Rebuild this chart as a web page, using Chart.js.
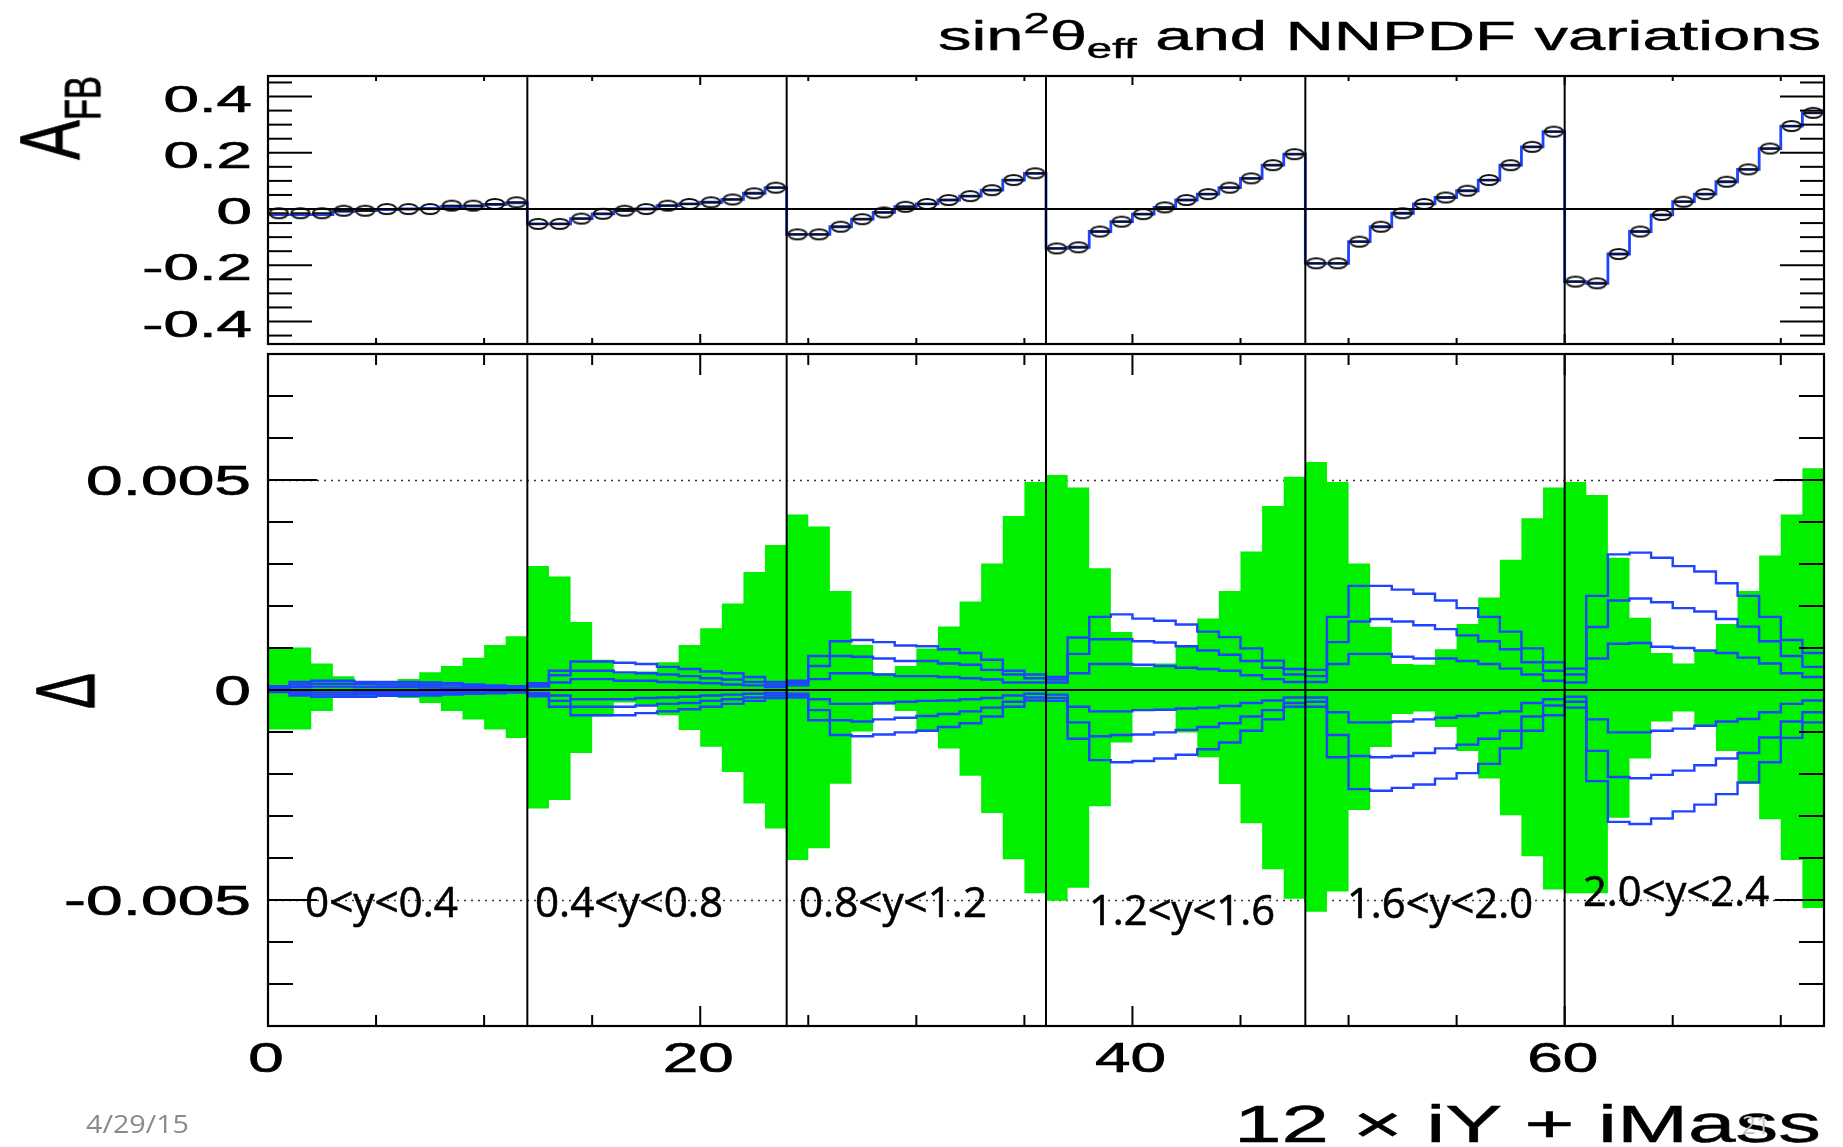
<!DOCTYPE html>
<html>
<head>
<meta charset="utf-8">
<title>sin2theta_eff and NNPDF variations</title>
<script src="https://cdn.jsdelivr.net/npm/chart.js@4.4.1/dist/chart.umd.min.js"></script>
<style>
  html, body { margin: 0; padding: 0; background: #fff; }
  body { width: 1843px; height: 1147px; position: relative; overflow: hidden; }
  canvas { position: absolute; left: 0; }
  .txt { position: absolute; left: 0; top: 0; white-space: nowrap; line-height: 1; color: #000;
         font-family: "Liberation Sans", Arial, Helvetica, sans-serif; -webkit-text-stroke: 0.5px #000; }
  .slide { font-family: "Open Sans", "Liberation Sans", sans-serif; -webkit-text-stroke: 0.6px #000; }
  .sup { position: relative; top: -0.6em; font-size: 0.7em; line-height: 0; }
  .sub { position: relative; top: 0.3em; font-size: 0.68em; line-height: 0; }
  .sub2 { position: relative; top: 0.42em; font-size: 0.58em; line-height: 0; }
</style>
</head>
<body>
<canvas id="afb" width="1843" height="352" style="top:0"></canvas>
<canvas id="delta" width="1843" height="797" style="top:350px"></canvas>

<div class="txt" id="title" style="font-size:41px">sin<span class="sup">2</span>θ<span class="sub">eff</span> and NNPDF variations</div>
<div class="txt" id="xtitle" style="font-size:51px">12 × iY + iMass</div>
<div class="txt" id="ytitleTop" style="font-size:53px">A<span class="sub2">FB</span></div>
<div class="txt" id="ytitleBottom" style="font-size:52px">Δ</div>
<div class="txt slide" id="date" style="font-size:25px;color:#8a8a8a;-webkit-text-stroke:0">4/29/15</div>
<div class="txt slide" id="pageno" style="font-size:25px;color:#c4c4c4;-webkit-text-stroke:0">21</div>

<script>
// bins: 12 x iY + iMass, 72 bins of width 1
const nBins = 72;
const blockEdges = [12, 24, 36, 48, 60];
const rapidityLabels = ["0<y<0.4", "0.4<y<0.8", "0.8<y<1.2", "1.2<y<1.6", "1.6<y<2.0", "2.0<y<2.4"];

// tick labels
const afbTicks = [-0.4, -0.2, 0, 0.2, 0.4];
const afbTickLabels = ["-0.4", "-0.2", "0", "0.2", "0.4"];
const deltaTicks = [-0.005, 0, 0.005];
const deltaTickLabels = ["-0.005", "0", "0.005"];
const xTicks = [0, 20, 40, 60];
const xTickLabels = ["0", "20", "40", "60"];
const dottedLevels = [-0.005, 0.005];

// A_FB, markers (one per bin)
const afbPoints = [
  -0.015, -0.015, -0.015, -0.006, -0.006, 0.000, 0.000, 0.000, 0.012, 0.012, 0.018, 0.024,
  -0.053, -0.053, -0.034, -0.017, -0.006, 0.000, 0.012, 0.018, 0.024, 0.034, 0.056, 0.076,
  -0.090, -0.090, -0.063, -0.036, -0.012, 0.008, 0.018, 0.032, 0.046, 0.067, 0.103, 0.127,
  -0.140, -0.136, -0.080, -0.045, -0.018, 0.006, 0.032, 0.053, 0.076, 0.109, 0.156, 0.195,
  -0.193, -0.193, -0.116, -0.063, -0.015, 0.018, 0.041, 0.065, 0.103, 0.156, 0.221, 0.275,
  -0.258, -0.264, -0.160, -0.080, -0.021, 0.026, 0.053, 0.097, 0.141, 0.215, 0.295, 0.342
];
// A_FB, blue histogram
const afbStep = [
  -0.020, -0.020, -0.020, -0.008, -0.006, -0.002, 0.000, 0.002, 0.008, 0.010, 0.016, 0.022,
  -0.053, -0.053, -0.034, -0.017, -0.006, 0.000, 0.012, 0.018, 0.024, 0.034, 0.056, 0.076,
  -0.090, -0.090, -0.063, -0.036, -0.012, 0.008, 0.018, 0.032, 0.046, 0.067, 0.103, 0.127,
  -0.140, -0.136, -0.080, -0.045, -0.018, 0.006, 0.032, 0.053, 0.076, 0.109, 0.156, 0.195,
  -0.193, -0.193, -0.116, -0.063, -0.015, 0.018, 0.041, 0.065, 0.103, 0.156, 0.221, 0.275,
  -0.258, -0.264, -0.160, -0.080, -0.021, 0.026, 0.053, 0.097, 0.141, 0.215, 0.295, 0.342
];

// NNPDF band (green), upper and lower edge per bin
const pdfUp = [
  0.00101, 0.00101, 0.00063, 0.00033, 0.00020, 0.00018, 0.00026, 0.00042, 0.00057, 0.00077, 0.00107, 0.00128,
  0.00295, 0.00270, 0.00162, 0.00072, 0.00040, 0.00044, 0.00066, 0.00107, 0.00147, 0.00206, 0.00281, 0.00345,
  0.00418, 0.00389, 0.00236, 0.00107, 0.00040, 0.00057, 0.00099, 0.00151, 0.00211, 0.00301, 0.00414, 0.00495,
  0.00512, 0.00482, 0.00290, 0.00138, 0.00055, 0.00063, 0.00104, 0.00170, 0.00236, 0.00330, 0.00438, 0.00508,
  0.00543, 0.00495, 0.00301, 0.00150, 0.00062, 0.00060, 0.00097, 0.00157, 0.00220, 0.00310, 0.00409, 0.00482,
  0.00495, 0.00464, 0.00315, 0.00172, 0.00088, 0.00063, 0.00094, 0.00157, 0.00236, 0.00320, 0.00418, 0.00528
];
const pdfDown = [
  -0.00094, -0.00094, -0.00050, -0.00019, -0.00015, -0.00015, -0.00019, -0.00031, -0.00050, -0.00070, -0.00094, -0.00114,
  -0.00282, -0.00262, -0.00150, -0.00063, -0.00030, -0.00035, -0.00060, -0.00095, -0.00135, -0.00195, -0.00270, -0.00330,
  -0.00405, -0.00377, -0.00223, -0.00099, -0.00035, -0.00050, -0.00097, -0.00139, -0.00204, -0.00293, -0.00403, -0.00484,
  -0.00502, -0.00471, -0.00277, -0.00125, -0.00048, -0.00048, -0.00101, -0.00160, -0.00224, -0.00317, -0.00427, -0.00497,
  -0.00528, -0.00480, -0.00286, -0.00136, -0.00057, -0.00051, -0.00088, -0.00145, -0.00211, -0.00298, -0.00396, -0.00475,
  -0.00484, -0.00484, -0.00304, -0.00163, -0.00075, -0.00051, -0.00084, -0.00145, -0.00224, -0.00308, -0.00405, -0.00519
];

// sin2theta_eff variations (blue), three up and three down
const sinUp3 = [
  0.00009, 0.00019, 0.00022, 0.00022, 0.00019, 0.00019, 0.00019, 0.00018, 0.00016, 0.00013, 0.00011, 0.00009,
  0.00016, 0.00046, 0.00068, 0.00068, 0.00065, 0.00062, 0.00055, 0.00050, 0.00044, 0.00040, 0.00031, 0.00019,
  0.00022, 0.00081, 0.00116, 0.00119, 0.00114, 0.00106, 0.00104, 0.00097, 0.00088, 0.00072, 0.00046, 0.00037,
  0.00031, 0.00125, 0.00174, 0.00180, 0.00170, 0.00165, 0.00156, 0.00139, 0.00126, 0.00099, 0.00070, 0.00050,
  0.00048, 0.00174, 0.00248, 0.00248, 0.00239, 0.00229, 0.00213, 0.00195, 0.00174, 0.00139, 0.00099, 0.00066,
  0.00051, 0.00224, 0.00323, 0.00327, 0.00315, 0.00295, 0.00282, 0.00254, 0.00224, 0.00174, 0.00119, 0.00088
];
const sinUp2 = [
  0.00006, 0.00013, 0.00015, 0.00015, 0.00014, 0.00013, 0.00013, 0.00012, 0.00011, 0.00009, 0.00007, 0.00006,
  0.00012, 0.00035, 0.00046, 0.00046, 0.00042, 0.00040, 0.00037, 0.00033, 0.00028, 0.00025, 0.00019, 0.00013,
  0.00016, 0.00057, 0.00081, 0.00079, 0.00075, 0.00069, 0.00069, 0.00063, 0.00060, 0.00048, 0.00037, 0.00028,
  0.00025, 0.00086, 0.00121, 0.00121, 0.00116, 0.00113, 0.00104, 0.00094, 0.00084, 0.00069, 0.00053, 0.00037,
  0.00033, 0.00114, 0.00163, 0.00169, 0.00163, 0.00154, 0.00145, 0.00130, 0.00116, 0.00097, 0.00066, 0.00046,
  0.00037, 0.00150, 0.00213, 0.00218, 0.00209, 0.00195, 0.00187, 0.00169, 0.00151, 0.00116, 0.00081, 0.00055
];
const sinUp1 = [
  0.00003, 0.00007, 0.00008, 0.00008, 0.00007, 0.00007, 0.00007, 0.00006, 0.00005, 0.00005, 0.00004, 0.00003,
  0.00008, 0.00018, 0.00026, 0.00026, 0.00022, 0.00022, 0.00019, 0.00018, 0.00016, 0.00013, 0.00011, 0.00007,
  0.00011, 0.00026, 0.00040, 0.00040, 0.00037, 0.00033, 0.00033, 0.00031, 0.00028, 0.00025, 0.00018, 0.00018,
  0.00018, 0.00040, 0.00062, 0.00062, 0.00060, 0.00057, 0.00053, 0.00050, 0.00046, 0.00035, 0.00026, 0.00019,
  0.00019, 0.00062, 0.00086, 0.00086, 0.00079, 0.00075, 0.00075, 0.00069, 0.00062, 0.00051, 0.00037, 0.00022,
  0.00018, 0.00075, 0.00110, 0.00112, 0.00103, 0.00100, 0.00094, 0.00088, 0.00077, 0.00063, 0.00040, 0.00031
];
const sinDn1 = [
  -0.00002, -0.00005, -0.00006, -0.00006, -0.00005, -0.00005, -0.00005, -0.00004, -0.00004, -0.00003, -0.00003, -0.00002,
  -0.00007, -0.00013, -0.00022, -0.00022, -0.00022, -0.00019, -0.00018, -0.00016, -0.00013, -0.00011, -0.00009, -0.00007,
  -0.00009, -0.00022, -0.00033, -0.00033, -0.00031, -0.00028, -0.00026, -0.00025, -0.00022, -0.00019, -0.00013, -0.00009,
  -0.00011, -0.00040, -0.00051, -0.00051, -0.00048, -0.00047, -0.00044, -0.00042, -0.00038, -0.00031, -0.00025, -0.00018,
  -0.00018, -0.00053, -0.00077, -0.00077, -0.00075, -0.00070, -0.00066, -0.00062, -0.00055, -0.00051, -0.00031, -0.00022,
  -0.00016, -0.00070, -0.00101, -0.00101, -0.00097, -0.00092, -0.00085, -0.00075, -0.00069, -0.00053, -0.00033, -0.00025
];
const sinDn2 = [
  -0.00004, -0.00009, -0.00011, -0.00011, -0.00010, -0.00010, -0.00009, -0.00009, -0.00008, -0.00006, -0.00005, -0.00004,
  -0.00011, -0.00026, -0.00040, -0.00040, -0.00040, -0.00037, -0.00033, -0.00031, -0.00026, -0.00022, -0.00018, -0.00013,
  -0.00013, -0.00048, -0.00072, -0.00075, -0.00070, -0.00066, -0.00062, -0.00057, -0.00051, -0.00042, -0.00028, -0.00018,
  -0.00019, -0.00077, -0.00110, -0.00107, -0.00106, -0.00101, -0.00095, -0.00088, -0.00079, -0.00063, -0.00048, -0.00031,
  -0.00028, -0.00107, -0.00157, -0.00160, -0.00157, -0.00150, -0.00139, -0.00130, -0.00116, -0.00097, -0.00063, -0.00037,
  -0.00028, -0.00145, -0.00207, -0.00210, -0.00202, -0.00192, -0.00179, -0.00163, -0.00150, -0.00113, -0.00075, -0.00053
];
const sinDn3 = [
  -0.00005, -0.00013, -0.00016, -0.00016, -0.00016, -0.00014, -0.00014, -0.00013, -0.00011, -0.00009, -0.00008, -0.00006,
  -0.00015, -0.00040, -0.00060, -0.00060, -0.00060, -0.00055, -0.00051, -0.00046, -0.00040, -0.00033, -0.00026, -0.00019,
  -0.00018, -0.00072, -0.00107, -0.00110, -0.00106, -0.00101, -0.00097, -0.00088, -0.00079, -0.00063, -0.00040, -0.00025,
  -0.00026, -0.00116, -0.00167, -0.00172, -0.00169, -0.00163, -0.00154, -0.00141, -0.00125, -0.00097, -0.00070, -0.00040,
  -0.00040, -0.00160, -0.00236, -0.00240, -0.00233, -0.00225, -0.00211, -0.00198, -0.00176, -0.00139, -0.00097, -0.00060,
  -0.00042, -0.00217, -0.00314, -0.00319, -0.00306, -0.00289, -0.00273, -0.00248, -0.00220, -0.00172, -0.00114, -0.00077
];

const BLUE = "#1f44ff";
const GREEN = "#00f000";
const FONT = '"Liberation Sans", Arial, Helvetica, sans-serif';

// histogram as step line: one point per low edge + closing point
function stepPoints(vals) {
  const pts = vals.map((v, i) => ({ x: i, y: v }));
  pts.push({ x: vals.length, y: vals[vals.length - 1] });
  return pts;
}
function centerPoints(vals) {
  return vals.map((v, i) => ({ x: i + 0.5, y: v }));
}

// ROOT style open marker, stretched like the picture
const marker = document.createElement("canvas");
marker.width = 24; marker.height = 14;
(function () {
  const c = marker.getContext("2d");
  c.strokeStyle = "#111"; c.lineWidth = 2;
  c.beginPath(); c.ellipse(12, 7, 9.2, 5, 0, 0, Math.PI * 2); c.stroke();
  c.beginPath(); c.moveTo(2.5, 7); c.lineTo(21.5, 7); c.stroke();
})();

function drawLabel(ctx, text, x, y, size, stretch, align) {
  ctx.save();
  ctx.font = size + "px " + FONT;
  ctx.fillStyle = "#000";
  ctx.strokeStyle = "#000";
  ctx.lineWidth = 0.7;
  ctx.textBaseline = "alphabetic";
  ctx.textAlign = align;
  ctx.translate(x, y);
  ctx.scale(stretch, 1);
  ctx.fillText(text, 0, 0);
  ctx.strokeText(text, 0, 0);
  ctx.restore();
}

function seg(ctx, x1, y1, x2, y2) {
  ctx.beginPath(); ctx.moveTo(x1, y1); ctx.lineTo(x2, y2); ctx.stroke();
}

// frame, inward ticks, reference lines and tick labels
const rootFrame = {
  id: "rootFrame",
  beforeDatasetsDraw(chart, args, o) {
    const { ctx, chartArea: a, scales: { y } } = chart;
    ctx.save();
    ctx.strokeStyle = "#333"; ctx.lineWidth = 1.6; ctx.setLineDash([2, 5]);
    (o.dotted || []).forEach(v => {
      const py = Math.round(y.getPixelForValue(v)) + 0.5;
      seg(ctx, a.left, py, a.right, py);
    });
    ctx.restore();
  },
  afterDatasetsDraw(chart, args, o) {
    const { ctx, chartArea: a, scales: { x, y } } = chart;
    ctx.save();
    ctx.strokeStyle = "#000";
    ctx.lineWidth = 2;
    const y0 = y.getPixelForValue(0);
    seg(ctx, a.left, y0, a.right, y0);
    blockEdges.forEach(e => {
      const px = x.getPixelForValue(e);
      seg(ctx, px, a.top, px, a.bottom);
    });

    // y ticks, both sides
    const kMin = Math.ceil(y.min / o.yStep), kMax = Math.floor(y.max / o.yStep);
    for (let k = kMin; k <= kMax; k++) {
      const v = k * o.yStep;
      const py = y.getPixelForValue(v);
      if (py < a.top + 2 || py > a.bottom - 2) continue;
      const r = v / o.yMajor;
      const len = Math.abs(r - Math.round(r)) < 1e-6 ? o.yLen[1] : o.yLen[0];
      seg(ctx, a.left, py, a.left + len, py);
      seg(ctx, a.right, py, a.right - len, py);
    }
    // x ticks, top and bottom
    for (let v = 5; v < nBins; v += 5) {
      const px = x.getPixelForValue(v);
      const major = v % 20 === 0;
      seg(ctx, px, a.top, px, a.top + (major ? o.xLenTop[1] : o.xLenTop[0]));
      seg(ctx, px, a.bottom, px, a.bottom - (major ? o.xLenBottom[1] : o.xLenBottom[0]));
    }
    ctx.lineWidth = 2.2;
    ctx.strokeRect(a.left, a.top, a.right - a.left, a.bottom - a.top);

    o.yTicks.forEach((v, i) => {
      drawLabel(ctx, o.yLabels[i], o.labelRight, y.getPixelForValue(v) + o.labelDrop,
                o.labelFont, o.labelStretch, "right");
    });
    if (o.xTicks) {
      o.xTicks.forEach((v, i) => {
        drawLabel(ctx, o.xLabels[i], x.getPixelForValue(v) - 2, a.bottom + o.xLabelGap,
                  o.labelFont, o.xLabelStretch, "center");
      });
    }
    ctx.restore();
  }
};

const xScale = { type: "linear", min: 0, max: nBins, display: false };

new Chart(document.getElementById("afb"), {
  type: "line",
  plugins: [rootFrame],
  data: {
    datasets: [
      { label: "A_FB", data: centerPoints(afbPoints), showLine: false,
        pointStyle: marker, pointRadius: 6, order: 0 },
      { label: "sin2theta_eff", data: stepPoints(afbStep), stepped: true,
        borderColor: BLUE, borderWidth: 2.8, pointRadius: 0, fill: false, order: 1 }
    ]
  },
  options: {
    responsive: false, animation: false, events: [],
    layout: { padding: { left: 268, top: 76, right: 19, bottom: 8 } },
    scales: { x: xScale, y: { type: "linear", min: -0.48, max: 0.473, display: false } },
    plugins: {
      legend: { display: false }, tooltip: { enabled: false },
      rootFrame: {
        yStep: 0.05, yMajor: 0.2, yLen: [24, 44], xLenTop: [5, 9], xLenBottom: [6, 10],
        yTicks: afbTicks, yLabels: afbTickLabels,
        labelFont: 37, labelStretch: 1.72, labelRight: 252, labelDrop: 15
      }
    }
  }
});

const variations = [sinUp3, sinUp2, sinUp1, sinDn1, sinDn2, sinDn3];

new Chart(document.getElementById("delta"), {
  type: "line",
  plugins: [rootFrame],
  data: {
    datasets: [
      { label: "NNPDF up", data: stepPoints(pdfUp), stepped: true, borderColor: "rgba(0,0,0,0)",
        borderWidth: 0, backgroundColor: GREEN, fill: "+1", pointRadius: 0, order: 10 },
      { label: "NNPDF down", data: stepPoints(pdfDown), stepped: true, borderColor: "rgba(0,0,0,0)",
        borderWidth: 0, fill: false, pointRadius: 0, order: 11 }
    ].concat(variations.map((vals, i) => ({
      label: "sin2theta variation " + (i + 1), data: stepPoints(vals), stepped: true,
      borderColor: BLUE, borderWidth: 2.4, pointRadius: 0, fill: false, order: 1 + i
    })))
  },
  options: {
    responsive: false, animation: false, events: [],
    layout: { padding: { left: 268, top: 4, right: 19, bottom: 121 } },
    scales: { x: xScale, y: { type: "linear", min: -0.008, max: 0.008, display: false } },
    plugins: {
      legend: { display: false }, tooltip: { enabled: false },
      rootFrame: {
        yStep: 0.001, yMajor: 0.005, yLen: [25, 49], xLenTop: [11, 21], xLenBottom: [11, 20],
        yTicks: deltaTicks, yLabels: deltaTickLabels, dotted: dottedLevels,
        labelFont: 42, labelStretch: 1.57, labelRight: 251, labelDrop: 15,
        xTicks: xTicks, xLabels: xTickLabels, xLabelGap: 46, xLabelStretch: 1.52
      }
    }
  }
});

// text placement: baseline and width
function probeBaseline(el) {
  const probe = document.createElement("span");
  probe.style.cssText = "display:inline-block;width:0;height:0;vertical-align:baseline;";
  el.appendChild(probe);
  const box = el.getBoundingClientRect();
  return { base: probe.getBoundingClientRect().top - box.top, w: box.width };
}
function placeText(el, left, baseline, width) {
  const m = probeBaseline(el);
  el.style.transformOrigin = "0 0";
  el.style.transform = "scaleX(" + (width / m.w) + ")";
  el.style.left = left + "px";
  el.style.top = (baseline - m.base) + "px";
}
function placeRotated(el, baseX, startY, length, thick) {
  const m = probeBaseline(el);
  el.style.transformOrigin = "0 0";
  el.style.transform = "rotate(-90deg) scale(" + (length / m.w) + "," + thick + ")";
  el.style.left = (baseX - thick * m.base) + "px";
  el.style.top = startY + "px";
}

placeText(document.getElementById("title"), 938, 50, 883);
placeText(document.getElementById("xtitle"), 1234, 1142, 587);
placeText(document.getElementById("date"), 86, 1133, 103);
placeText(document.getElementById("pageno"), 1742, 1134, 28);
placeRotated(document.getElementById("ytitleTop"), 79, 160, 84, 1.6);
placeRotated(document.getElementById("ytitleBottom"), 94, 709, 36, 1.6);

// rapidity bin labels on the slide
const labelBoxes = [
  { left: 305, base: 917, width: 153 },
  { left: 535, base: 917, width: 188 },
  { left: 799, base: 917, width: 188 },
  { left: 1089, base: 925, width: 186 },
  { left: 1347, base: 918, width: 186 },
  { left: 1583, base: 906, width: 186 }
];
rapidityLabels.forEach((t, i) => {
  const el = document.createElement("div");
  el.className = "txt slide";
  el.style.fontSize = "42px";
  el.textContent = t;
  document.body.appendChild(el);
  placeText(el, labelBoxes[i].left, labelBoxes[i].base, labelBoxes[i].width);
});
</script>
</body>
</html>
